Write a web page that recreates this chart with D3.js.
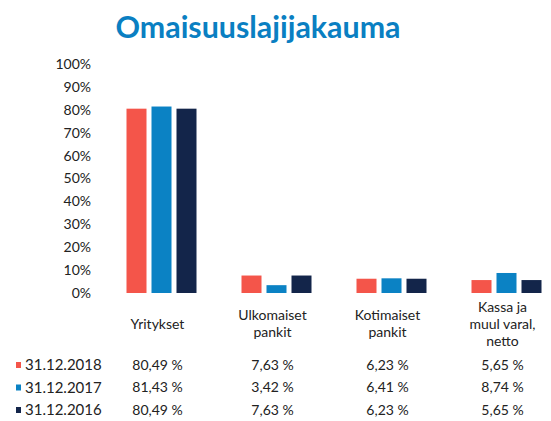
<!DOCTYPE html>
<html>
<head>
<meta charset="utf-8">
<script src="https://cdn.jsdelivr.net/npm/d3@7"></script>
<style>
  body { margin: 0; background: #fff; }
  svg text { font-family: Lato, "Open Sans", sans-serif; fill: #222; }
</style>
</head>
<body>
<svg id="chart" width="551" height="421"></svg>
<script>
// données
const categories = ["Yritykset", "Ulkomaiset pankit", "Kotimaiset pankit", "Kassa ja muul varal, netto"];
const categoryLines = [["Yritykset"], ["Ulkomaiset", "pankit"], ["Kotimaiset", "pankit"], ["Kassa ja", "muul varal,", "netto"]];
const series = ["31.12.2018", "31.12.2017", "31.12.2016"];
const values2018 = [80.49, 7.63, 6.23, 5.65];
const values2017 = [81.43, 3.42, 6.41, 8.74];
const values2016 = [80.49, 7.63, 6.23, 5.65];
const yTicks = [0, 10, 20, 30, 40, 50, 60, 70, 80, 90, 100];
const colors = ["#f4554a", "#0b82c4", "#13254a"];

const allValues = [values2018, values2017, values2016];

const width = 551, height = 421;
const svg = d3.select("#chart");

// titre
svg.append("text")
  .attr("x", 258).attr("y", 38)
  .attr("text-anchor", "middle")
  .attr("textLength", 285)
  .attr("lengthAdjust", "spacingAndGlyphs")
  .style("font-size", "30px")
  .style("font-weight", "bold")
  .style("fill", "#0a7fc2")
  .text("Omaisuuslajijakauma");

const x0 = d3.scaleBand().domain(categories).range([104, 564]);
const x1 = d3.scaleBand().domain(series).range([-35, 35]).paddingInner(0.2);
const y = d3.scaleLinear().domain([0, 100]).range([293, 64]);

// axe y
const yAxis = d3.axisLeft(y)
  .tickValues(yTicks)
  .tickSize(0)
  .tickPadding(0)
  .tickFormat((d) => d + "%");
svg.append("g")
  .attr("transform", "translate(91,0)")
  .call(yAxis)
  .call((g) => g.select(".domain").remove())
  .call((g) => g.selectAll("text").style("font-size", "14px").style("fill", "#222"));

// barres
const groups = svg.append("g")
  .selectAll("g")
  .data(categories)
  .join("g")
  .attr("transform", (d) => `translate(${x0(d) + x0.bandwidth() / 2},0)`);

groups.selectAll("rect")
  .data((c, i) => series.map((s, j) => ({ s, j, v: allValues[j][i] })))
  .join("rect")
  .attr("x", (d) => x1(d.s))
  .attr("width", x1.bandwidth())
  .attr("y", (d) => y(d.v))
  .attr("height", (d) => y(0) - y(d.v))
  .attr("fill", (d) => colors[d.j]);

// tableau
const fmt = (v) => d3.format(".2f")(v).replace(".", ",") + " %";
const lineH = 17;

categories.forEach((c, i) => {
  const cx = x0(c) + x0.bandwidth() / 2 - 4;
  const lines = categoryLines[i];
  const y0 = 324 - ((lines.length - 1) * lineH) / 2;
  const t = svg.append("text")
    .attr("text-anchor", "middle")
    .style("font-size", "14px");
  lines.forEach((l, k) => {
    t.append("tspan")
      .attr("x", cx)
      .attr("y", y0 + k * lineH)
      .attr("dy", "0.35em")
      .text(l);
  });
});

const rowY = [365, 387.5, 410];
series.forEach((s, j) => {
  svg.append("rect")
    .attr("x", 16).attr("y", rowY[j] - 3)
    .attr("width", 5).attr("height", 6)
    .attr("fill", colors[j]);
  svg.append("text")
    .attr("x", 25).attr("y", rowY[j])
    .attr("dy", "0.35em")
    .style("font-size", "15px")
    .text(s);
  categories.forEach((c, i) => {
    svg.append("text")
      .attr("x", x0(c) + x0.bandwidth() / 2 - 4)
      .attr("y", rowY[j])
      .attr("dy", "0.35em")
      .attr("text-anchor", "middle")
      .style("font-size", "14px")
      .text(fmt(allValues[j][i]));
  });
});
</script>
</body>
</html>
